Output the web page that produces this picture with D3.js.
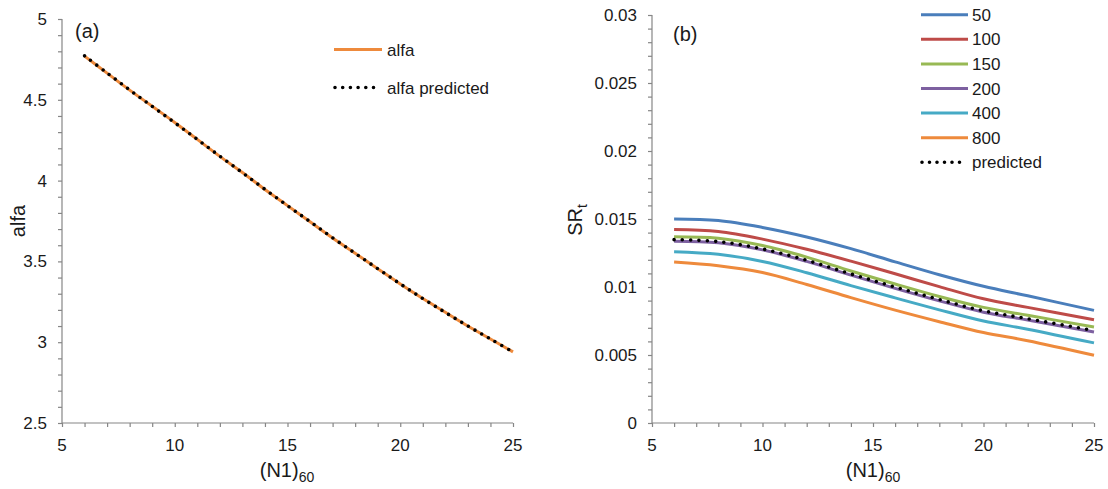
<!DOCTYPE html>
<html>
<head>
<meta charset="utf-8">
<script src="https://cdn.jsdelivr.net/npm/d3@7"></script>
<style>
  html, body { margin: 0; padding: 0; background: #ffffff; }
  svg text { font-family: "Liberation Sans", Arial, sans-serif; fill: #1a1a1a; }
</style>
</head>
<body>
<svg id="chart" width="1108" height="489"></svg>
<script>
// ---- Panel (a): alfa vs (N1)60 ----
const alfaN = [6, 7, 8, 9, 10, 11, 12, 13, 14, 15, 16, 17, 18, 19, 20, 21, 22, 23, 24, 25];
const alfaValues = [4.77, 4.665, 4.56, 4.46, 4.36, 4.255, 4.15, 4.05, 3.945, 3.845,
                    3.745, 3.645, 3.55, 3.455, 3.36, 3.27, 3.185, 3.10, 3.02, 2.94];
const alfaPredicted = [4.772, 4.666, 4.561, 4.459, 4.358, 4.255, 4.151, 4.049, 3.946, 3.845,
                       3.746, 3.646, 3.55, 3.455, 3.361, 3.27, 3.184, 3.10, 3.02, 2.94];
const alfaXTicks = [5, 10, 15, 20, 25];
const alfaYTicks = [2.5, 3, 3.5, 4, 4.5, 5];

// ---- Panel (b): SRt vs (N1)60 for several confining stresses ----
const srN = [6, 8, 10, 12, 14, 16, 18, 20, 22, 25];
const seriesNames = ["50", "100", "150", "200", "400", "800"];
const sr50  = [0.01500, 0.01489, 0.01438, 0.01368, 0.01282, 0.01185, 0.01090, 0.01005, 0.00935, 0.00828];
const sr100 = [0.01423, 0.01408, 0.01352, 0.01277, 0.01190, 0.01097, 0.01003, 0.00913, 0.00850, 0.00759];
const sr150 = [0.01370, 0.01359, 0.01305, 0.01220, 0.01118, 0.01022, 0.00930, 0.00850, 0.00792, 0.00706];
const sr200 = [0.01337, 0.01325, 0.01273, 0.01188, 0.01087, 0.00990, 0.00898, 0.00815, 0.00757, 0.00669];
const sr400 = [0.01259, 0.01240, 0.01188, 0.01105, 0.01010, 0.00920, 0.00832, 0.00750, 0.00690, 0.00589];
const sr800 = [0.01183, 0.01156, 0.01106, 0.01018, 0.00922, 0.00830, 0.00745, 0.00665, 0.00605, 0.00498];
const srPredicted = [0.01348, 0.01334, 0.01280, 0.01196, 0.01096, 0.01000, 0.00908, 0.00825, 0.00767, 0.00680];
const srXTicks = [5, 10, 15, 20, 25];
const srYTicks = [0, 0.005, 0.01, 0.015, 0.02, 0.025, 0.03];

const seriesColors = ["#4A7EBB", "#BE4B48", "#98B954", "#7D60A0", "#46AAC5", "#EE8A3C"];
const axisColor = "#868686";
const tickFont = 17;
const legendFont = 17;

const svg = d3.select("#chart");

function drawAxes(g, x, y, xTicks, yTicks, xMinor, yMinor, yFmt) {
  // minor + major ticks on y (outside, to the left)
  const yAxis = d3.axisLeft(y).tickValues(yMinor).tickSize(4).tickFormat("");
  const ya = g.append("g").attr("transform", `translate(${x.range()[0]},0)`).call(yAxis);
  ya.selectAll("path, line").attr("stroke", axisColor).attr("stroke-width", 1.2);
  ya.select(".domain").attr("d", `M0,${y.range()[0]}V${y.range()[1]}`);

  g.append("g").selectAll("text").data(yTicks).join("text")
    .attr("x", x.range()[0] - 15)
    .attr("y", d => y(d))
    .attr("dy", "0.35em")
    .attr("text-anchor", "end")
    .attr("font-size", tickFont)
    .text(yFmt);

  const xAxis = d3.axisBottom(x).tickValues(xMinor).tickSize(4).tickFormat("");
  const xa = g.append("g").attr("transform", `translate(0,${y.range()[0]})`).call(xAxis);
  xa.selectAll("path, line").attr("stroke", axisColor).attr("stroke-width", 1.2);
  xa.select(".domain").attr("d", `M${x.range()[0]},0H${x.range()[1]}`);

  g.append("g").selectAll("text").data(xTicks).join("text")
    .attr("x", d => x(d))
    .attr("y", y.range()[0] + 28)
    .attr("text-anchor", "middle")
    .attr("font-size", tickFont)
    .text(d => d);
}

function xTitle(g, cx, baseline) {
  const t = g.append("text")
    .attr("x", cx)
    .attr("y", baseline)
    .attr("text-anchor", "middle")
    .attr("font-size", 20);
  t.append("tspan").text("(N1)");
  t.append("tspan").attr("font-size", 14).attr("dy", 5).text("60");
}

const line = (x, y, xs) => d3.line()
  .x((d, i) => x(xs[i]))
  .y(d => y(d))
  .curve(d3.curveCatmullRom.alpha(0.5));

// ================= Panel (a) =================
{
  const g = svg.append("g");
  const x = d3.scaleLinear().domain([5, 25]).range([62, 513]);
  const y = d3.scaleLinear().domain([2.5, 5]).range([423, 19]);
  const xMinor = d3.range(5, 25.001, 1);
  const yMinor = d3.range(25, 50.001, 1).map(v => v / 10);
  drawAxes(g, x, y, alfaXTicks, alfaYTicks, xMinor, yMinor, d => d);

  g.append("path").datum(alfaValues)
    .attr("d", line(x, y, alfaN))
    .attr("fill", "none").attr("stroke", seriesColors[5]).attr("stroke-width", 3);
  g.append("path").datum(alfaPredicted)
    .attr("d", line(x, y, alfaN))
    .attr("fill", "none").attr("stroke", "#000").attr("stroke-width", 3.6)
    .attr("stroke-linecap", "round").attr("stroke-dasharray", "0 7.7");

  g.append("text").attr("x", 75).attr("y", 38).attr("font-size", 20).text("(a)");

  // legend
  g.append("line").attr("x1", 334).attr("x2", 382).attr("y1", 49.5).attr("y2", 49.5)
    .attr("stroke", seriesColors[5]).attr("stroke-width", 3);
  g.append("text").attr("x", 387).attr("y", 55.5).attr("font-size", legendFont).text("alfa");
  g.append("line").attr("x1", 335).attr("x2", 381).attr("y1", 87.5).attr("y2", 87.5)
    .attr("stroke", "#000").attr("stroke-width", 3.6)
    .attr("stroke-linecap", "round").attr("stroke-dasharray", "0 7.7");
  g.append("text").attr("x", 387).attr("y", 93.5).attr("font-size", legendFont).text("alfa predicted");

  g.append("text")
    .attr("transform", `translate(25,221) rotate(-90)`)
    .attr("text-anchor", "middle")
    .attr("font-size", 20)
    .text("alfa");
  xTitle(g, 287, 477);
}

// ================= Panel (b) =================
{
  const g = svg.append("g");
  const x = d3.scaleLinear().domain([5, 25]).range([652, 1094]);
  const y = d3.scaleLinear().domain([0, 0.03]).range([423, 15]);
  const xMinor = d3.range(5, 25.001, 1);
  const yMinor = d3.range(0, 30.001, 1).map(v => v / 1000);
  drawAxes(g, x, y, srXTicks, srYTicks, xMinor, yMinor, d => d === 0 ? "0" : String(+d.toFixed(3)));

  const allSeries = [sr50, sr100, sr150, sr200, sr400, sr800];
  allSeries.forEach((vals, i) => {
    g.append("path").datum(vals)
      .attr("d", line(x, y, srN))
      .attr("fill", "none").attr("stroke", seriesColors[i]).attr("stroke-width", 3);
  });
  g.append("path").datum(srPredicted)
    .attr("d", line(x, y, srN))
    .attr("fill", "none").attr("stroke", "#000").attr("stroke-width", 3.6)
    .attr("stroke-linecap", "round").attr("stroke-dasharray", "0 8.3");

  g.append("text").attr("x", 673).attr("y", 41).attr("font-size", 20).text("(b)");

  // legend
  const ly = d => 14.7 + d * 24.6;
  seriesNames.forEach((name, i) => {
    g.append("line").attr("x1", 921).attr("x2", 968).attr("y1", ly(i)).attr("y2", ly(i))
      .attr("stroke", seriesColors[i]).attr("stroke-width", 3);
    g.append("text").attr("x", 972).attr("y", ly(i) + 6).attr("font-size", legendFont).text(name);
  });
  g.append("line").attr("x1", 922).attr("x2", 967).attr("y1", ly(6)).attr("y2", ly(6))
    .attr("stroke", "#000").attr("stroke-width", 3.6)
    .attr("stroke-linecap", "round").attr("stroke-dasharray", "0 7.5");
  g.append("text").attr("x", 972).attr("y", ly(6) + 6).attr("font-size", legendFont).text("predicted");

  const t = g.append("text")
    .attr("transform", `translate(582,220) rotate(-90)`)
    .attr("text-anchor", "middle")
    .attr("font-size", 20);
  t.append("tspan").text("SR");
  t.append("tspan").attr("font-size", 14).attr("dy", 5).text("t");
  xTitle(g, 873, 477);
}
</script>
</body>
</html>
